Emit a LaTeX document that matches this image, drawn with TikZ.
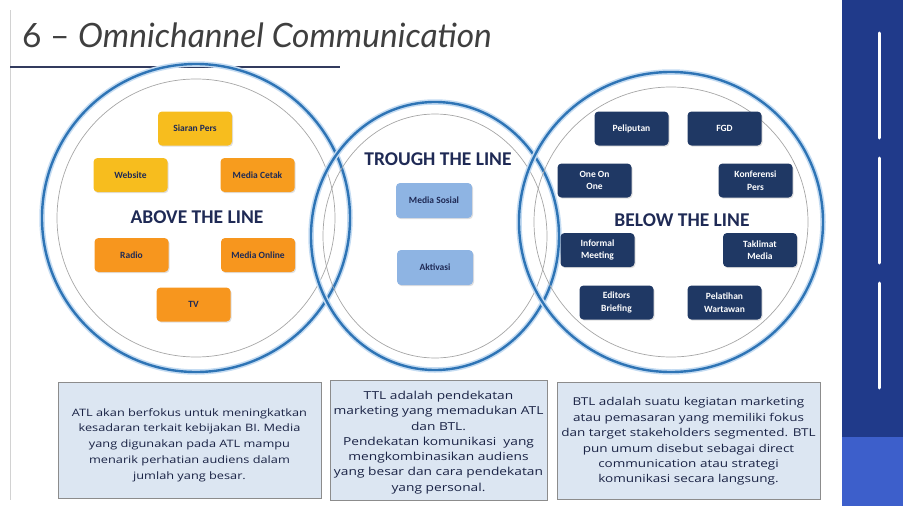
\documentclass[tikz,border=0pt]{standalone}
\usepackage{fontspec}
\setmainfont{Carlito}
\newfontfamily\notefont{Open Sans}[FakeStretch=1.25]
\newfontfamily\titlefont{Lato}
\usetikzlibrary{shadows}

\definecolor{ringblue}{HTML}{2E74B5}
\definecolor{ringglow}{HTML}{C5DCF2}
\definecolor{ringgray}{HTML}{A6A6A6}
\definecolor{labelnavy}{HTML}{1F2A55}
\definecolor{chipgold}{HTML}{F7BD1E}
\definecolor{chiporange}{HTML}{F7961E}
\definecolor{chipsky}{HTML}{8EB4E3}
\definecolor{chipnavy}{HTML}{1F3864}
\definecolor{notefill}{HTML}{DCE6F2}
\definecolor{noteline}{HTML}{8C8C8C}
\definecolor{barnavy}{HTML}{203A8A}
\definecolor{barlight}{HTML}{3D5FCB}
\definecolor{titlegray}{HTML}{3F3F3F}

\tikzset{
  ring/.style={ringblue, line width=2.4},
  ringhalo/.style={ringglow, line width=5.5},
  innerring/.style={ringgray, line width=0.7},
  chip/.style={rounded corners=4pt, minimum width=74, minimum height=34, inner sep=1pt,
    align=center, font=\fontsize{9.5}{12.5}\selectfont\bfseries,
    drop shadow={shadow xshift=1pt, shadow yshift=-1.2pt, opacity=0.25}},
  atlchip/.style={chip, fill=chiporange, text=labelnavy},
  ttlchip/.style={chip, fill=chipsky, text=labelnavy},
  btlchip/.style={chip, fill=chipnavy, text=white},
  biglabel/.style={font=\fontsize{19.5}{22}\selectfont\bfseries, text=labelnavy, inner sep=0},
  notebox/.style={draw=noteline, fill=notefill, line width=0.8, inner sep=0},
  notetext/.style={align=center, inner sep=0, text=labelnavy!80!black},
}

\begin{document}
\begin{tikzpicture}[x=1pt,y=1pt,yscale=-1,xscale=1]
    \useasboundingbox (0,0) rectangle (903,506);

    %Side bar
    \fill[barnavy] (842,0) rectangle (903,437);
    \fill[barlight] (842,437) rectangle (903,506);
    \foreach \y in {33,158,283}
        \draw[white, line width=3, line cap=round] (879,\y) -- (879,\y+105);

    %Slide edge
    \draw[gray!35, line width=0.8] (10,10) -- (10,500);

    % Title
    \node[anchor=base west, inner sep=0, text=titlegray] (title) at (22,47)
        {\titlefont\fontsize{33.5}{38}\selectfont 6 – \itshape Omnichannel Communication};
    \draw[labelnavy!80!gray, line width=2.2] (10,67) -- (340,67);

    %Shape: Circle ATL
    \draw[ringhalo] (196,218) circle [radius=154];
    \draw[ring] (196,218) circle [radius=154];
    \draw[innerring] (196,218) circle [radius=139];
    %Shape: Circle TTL
    \draw[ringhalo] (435,236) circle [x radius=124, y radius=134];
    \draw[ring] (435,236) circle [x radius=124, y radius=134];
    \draw[innerring] (435,236) circle [x radius=112, y radius=122];
    %Shape: Circle BTL
    \draw[ringhalo] (671,222) circle [x radius=152, y radius=150];
    \draw[ring] (671,222) circle [x radius=152, y radius=150];
    \draw[innerring] (671,222) circle [x radius=137, y radius=135];

    % Above the line
    \node[biglabel] (atl) at (197,217) {ABOVE THE LINE};
    \node[atlchip, fill=chipgold] (siaran) at (195,128.5) {Siaran Pers};
    \node[atlchip, fill=chipgold] (website) at (130.5,175) {Website};
    \node[atlchip, fill=chiporange!85!chipgold] (cetak) at (257.5,175) {Media Cetak};
    \node[atlchip] (radio) at (131.5,255) {Radio};
    \node[atlchip] (online) at (258,255) {Media Online};
    \node[atlchip] (tv) at (193.5,304.5) {TV};

    % Trough the line
    \node[biglabel] (ttl) at (438,159) {TROUGH THE LINE};
    \node[ttlchip, minimum width=76, minimum height=35] (sosial) at (434,200.5) {Media Sosial};
    \node[ttlchip, minimum width=76, minimum height=35] (aktivasi) at (435,267.5) {Aktivasi};

    % Below the line
    \node[biglabel] (btl) at (682,220) {BELOW THE LINE};
    \node[btlchip] (peliputan) at (631.5,128.5) {Peliputan};
    \node[btlchip] (fgd) at (724.5,128.5) {FGD};
    \node[btlchip] (oneonone) at (594.5,180.5) {One On\\One};
    \node[btlchip] (konferensi) at (755.5,180.5) {Konferensi\\Pers};
    \node[btlchip] (informal) at (597.5,250) {Informal\\Meeting};
    \node[btlchip] (taklimat) at (760,250) {Taklimat\\Media};
    \node[btlchip] (editors) at (616.5,302.5) {Editors\\Briefing};
    \node[btlchip] (pelatihan) at (724.5,302.5) {Pelatihan\\Wartawan};

    % Notes
    \node[notebox, minimum width=263, minimum height=116] (atlbox) at (189.5,440) {};
    \node[notetext, font=\notefont\fontsize{10.2}{15.8}\selectfont] (atlnote) at (189.5,445)
        {ATL akan berfokus untuk meningkatkan\\
        kesadaran terkait kebijakan BI. Media\\ yang digunakan pada ATL mampu\\
        menarik perhatian audiens dalam\\ jumlah yang besar.};
    \node[notebox, minimum width=217, minimum height=120] (ttlbox) at (438.5,440) {};
    \node[notetext, font=\notefont\fontsize{11}{15.3}\selectfont] (ttlnote) at (438.5,442.5)
        {TTL adalah pendekatan\\
        marketing yang memadukan ATL\\ dan BTL.\\ Pendekatan komunikasi\ \ yang\\
        mengkombinasikan audiens\\ yang besar dan cara pendekatan\\ yang personal.};
    \node[notebox, minimum width=263, minimum height=117] (btlbox) at (688.5,440.5) {};
    \node[notetext, font=\notefont\fontsize{10.8}{15.4}\selectfont] (btlnote) at (688.5,441.5)
        {BTL adalah suatu kegiatan marketing\\
        atau pemasaran yang memiliki fokus\\ dan target stakeholders segmented. BTL\\
        pun umum disebut sebagai direct\\ communication atau strategi\\
        komunikasi secara langsung.};

\end{tikzpicture}
\end{document}
